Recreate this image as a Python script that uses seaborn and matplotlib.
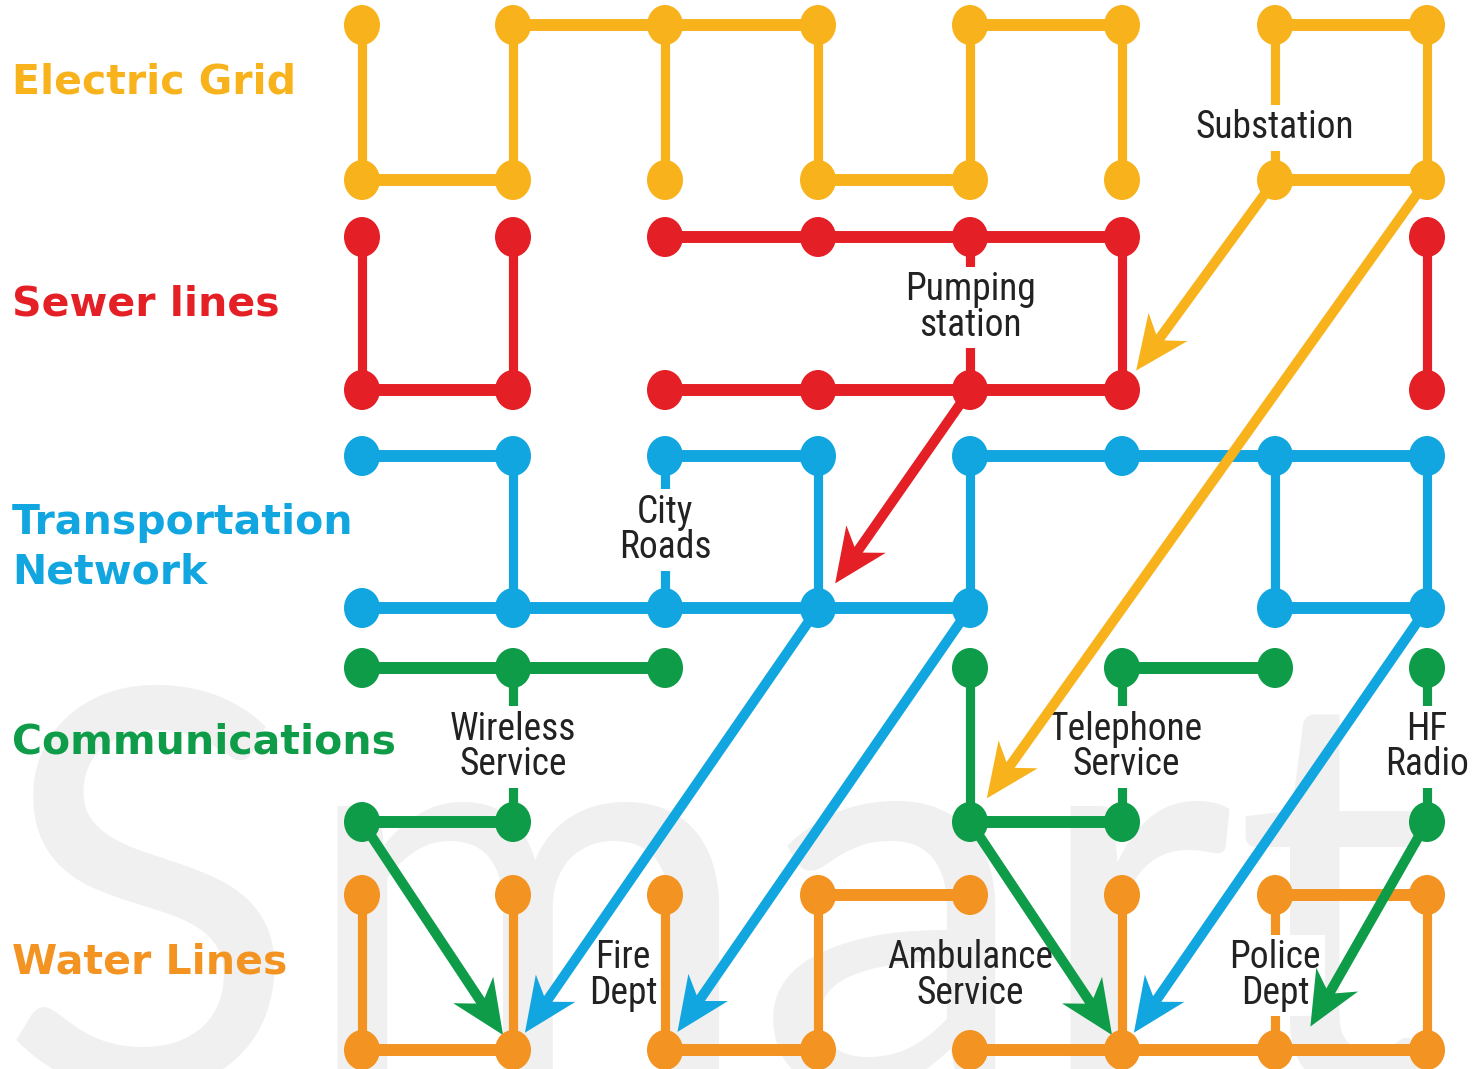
import numpy as np
import pandas as pd
import matplotlib
matplotlib.use('Agg')
from matplotlib import pyplot as plt
from matplotlib.path import Path
import seaborn as sns

# networks, top to bottom
networks = ['Electric Grid', 'Sewer lines', 'Transportation\nNetwork', 'Communications', 'Water Lines']
colors = ['#F8B21C', '#E41F26', '#12A6E1', '#0E9C48', '#F39321']

# node columns (0-7) on the top / bottom row of each network, and the links between them
electric_top = [0, 1, 2, 3, 4, 5, 6, 7]
electric_bottom = [0, 1, 2, 3, 4, 5, 6, 7]
electric_htop = [(1, 3), (4, 5), (6, 7)]
electric_hbottom = [(0, 1), (3, 4), (6, 7)]
electric_vert = [0, 1, 2, 3, 4, 5, 6, 7]

sewer_top = [0, 1, 2, 3, 4, 5, 7]
sewer_bottom = [0, 1, 2, 3, 4, 5, 7]
sewer_htop = [(2, 5)]
sewer_hbottom = [(0, 1), (2, 5)]
sewer_vert = [0, 1, 4, 5, 7]

transport_top = [0, 1, 2, 3, 4, 5, 6, 7]
transport_bottom = [0, 1, 2, 3, 4, 6, 7]
transport_htop = [(0, 1), (2, 3), (4, 7)]
transport_hbottom = [(0, 4), (6, 7)]
transport_vert = [1, 2, 3, 4, 6, 7]

comm_top = [0, 1, 2, 4, 5, 6, 7]
comm_bottom = [0, 1, 4, 5, 7]
comm_htop = [(0, 2), (5, 6)]
comm_hbottom = [(0, 1), (4, 5)]
comm_vert = [1, 4, 5, 7]

water_top = [0, 1, 2, 3, 4, 5, 6, 7]
water_bottom = [0, 1, 2, 3, 4, 5, 6, 7]
water_htop = [(3, 4), (6, 7)]
water_hbottom = [(0, 1), (2, 3), (4, 7)]
water_vert = [0, 1, 2, 3, 5, 6, 7]

# facility labels: network index, column, text
station_net = [0, 1, 2, 3, 3, 3, 4, 4, 4]
station_col = [6, 4, 2, 1, 5, 7, 2, 4, 6]
station_text = ['Substation', 'Pumping\nstation', 'City\nRoads', 'Wireless\nService',
                'Telephone\nService', 'HF\nRadio', 'Fire\nDept', 'Ambulance\nService', 'Police\nDept']

# dependencies: bottom node of one network -> bottom node of another
arrow_from_net = [0, 0, 1, 2, 2, 2, 3, 3, 3]
arrow_from_col = [6, 7, 4, 3, 4, 7, 0, 4, 7]
arrow_to_net = [1, 3, 2, 4, 4, 4, 4, 4, 4]
arrow_to_col = [5, 4, 3, 1, 2, 5, 1, 5, 6]

#%% layout (pixels)
col_x = [362, 513, 665, 818, 970, 1122, 1275, 1427]
row_top = [25, 237, 456, 668, 895]
row_bottom = [180, 390, 608, 822, 1050]
title_y = [83, 304, 548, 742, 962]
station_dx = [0, 0, 0, 0, 4, 0, -42, 0, 0]
station_dy = [25, -6, -2, 2, 2, 2, 3, 3, 3]
station_boxed = [True, True, True, True, True, True, False, False, True]
arrow_gap = [24, 29, 30, 21, 22, 21, 18, 18, 27]
arrow_aim_dx = [0, 0, 0, 0, 0, 0, 0, 0, 22]

nets = [
    (electric_top, electric_bottom, electric_htop, electric_hbottom, electric_vert),
    (sewer_top, sewer_bottom, sewer_htop, sewer_hbottom, sewer_vert),
    (transport_top, transport_bottom, transport_htop, transport_hbottom, transport_vert),
    (comm_top, comm_bottom, comm_htop, comm_hbottom, comm_vert),
    (water_top, water_bottom, water_htop, water_hbottom, water_vert),
]

seg_rows = []
node_rows = []
sid = 0
for i, (top, bottom, htop, hbottom, vert) in enumerate(nets):
    name = networks[i]
    for c in top:
        node_rows.append((name, col_x[c], row_top[i]))
    for c in bottom:
        node_rows.append((name, col_x[c], row_bottom[i]))
    for row, pairs in ((row_top[i], htop), (row_bottom[i], hbottom)):
        for a, b in pairs:
            seg_rows.append((sid, name, 'h', col_x[a], row))
            seg_rows.append((sid, name, 'h', col_x[b], row))
            sid += 1
    for c in vert:
        seg_rows.append((sid, name, 'v', col_x[c], row_top[i]))
        seg_rows.append((sid, name, 'v', col_x[c], row_bottom[i]))
        sid += 1

segs = pd.DataFrame(seg_rows, columns=['seg', 'network', 'dir', 'x', 'y'])
nodes = pd.DataFrame(node_rows, columns=['network', 'x', 'y'])
palette = dict(zip(networks, colors))


def arrow_poly(x0, y0, x1, y1, gap, shaft=10, head=54, half=24, notch=13):
    d = np.array([x1 - x0, y1 - y0], float)
    L = np.hypot(*d)
    u = d / L
    v = np.array([-u[1], u[0]])
    tail = np.array([x0, y0], float)
    tip = tail + u * (L - gap)
    base = tip - u * head
    neck = tip - u * (head - notch)
    pts = [tip, base + v * half, neck + v * shaft / 2, tail + v * shaft / 2,
           tail - v * shaft / 2, neck - v * shaft / 2, base - v * half]
    return np.array(pts)


#%%
sns.set_theme(style='white')
plt.rcParams['lines.solid_capstyle'] = 'butt'

fig = plt.figure(figsize=(14.72, 10.69), dpi=100)
ax = fig.add_axes([0, 0, 1, 1])

# faint watermark
ax.text(-2, 1088, 'Smart', fontsize=400, color='#F0F0F0', family='Lato', weight='normal',
        ha='left', va='baseline', zorder=0)

sns.lineplot(data=segs, x='x', y='y', hue='network', size='dir', sizes={'h': 8.6, 'v': 6.6},
             units='seg', estimator=None, sort=False, palette=palette, legend=False,
             ax=ax, zorder=1)

label_font = ['Liberation Sans Narrow', 'Roboto Condensed', 'Open Sans Condensed',
              'Noto Sans Condensed', 'Noto Sans', 'DejaVu Sans']
for n, c, t, dx, dy, boxed in zip(station_net, station_col, station_text,
                                  station_dx, station_dy, station_boxed):
    y = (row_top[n] + row_bottom[n]) / 2 + dy
    ax.text(col_x[c] + dx, y, t, ha='center', va='center', fontsize=27, family=label_font,
            fontstretch='condensed', color='#222222', linespacing=0.95, zorder=2,
            bbox=dict(boxstyle='square,pad=0.12', fc='white', ec='none') if boxed else None)

for fn, fc, tn, tc, gap, adx in zip(arrow_from_net, arrow_from_col, arrow_to_net,
                                    arrow_to_col, arrow_gap, arrow_aim_dx):
    p = arrow_poly(col_x[fc], row_bottom[fn], col_x[tc] + adx, row_bottom[tn], gap)
    ax.fill(p[:, 0], p[:, 1], color=colors[fn], lw=0, zorder=3)

circ = Path.unit_circle()
node_marker = Path(circ.vertices * [0.9, 1.0], circ.codes)
sns.scatterplot(data=nodes, x='x', y='y', hue='network', palette=palette, s=830,
                marker=node_marker, linewidth=0, legend=False, ax=ax, zorder=5)

for name, col, y in zip(networks, colors, title_y):
    ax.text(12, y, name, color=col, fontsize=29.5, family='DejaVu Sans', weight='bold',
            ha='left', va='center', linespacing=1.3, zorder=6)

ax.set_xlim(0, 1472)
ax.set_ylim(1069, 0)
ax.axis('off')
fig.savefig('out.png', dpi=100)
